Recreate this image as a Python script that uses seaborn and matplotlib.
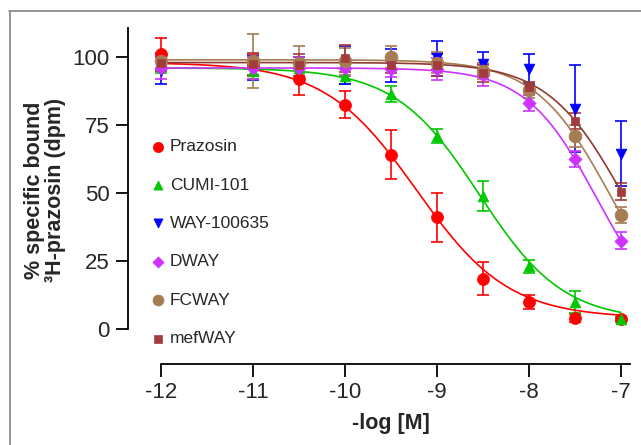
import matplotlib
matplotlib.use("Agg")
import matplotlib.pyplot as plt
from matplotlib.lines import Line2D
import seaborn as sns
import pandas as pd
import numpy as np

# concentrations (-log [M])
log_conc = [-12, -11, -10.5, -10, -9.5, -9, -8.5, -8, -7.5, -7]

compounds = ["Prazosin", "CUMI-101", "WAY-100635", "DWAY", "FCWAY", "mefWAY"]

# % specific bound (mean) and error
prazosin_mean = [101, 97, 92, 82.5, 64, 41, 18.5, 10, 4, 3.5]
prazosin_err = [6, 4, 6, 5, 9, 9, 6, 2.5, 1.5, 1]
cumi_mean = [97, 95, 96, 93, 86.5, 71, 49, 23, 10, 3.5]
cumi_err = [3, 3, 3, 3, 3, 2.5, 5.5, 2.5, 4, 1]
way_mean = [95, 96, 96, 97, 97, 99.5, 97.5, 95.5, 81, 64.5]
way_err = [5, 4.5, 4, 7, 6, 6.5, 4.5, 5.5, 16, 12]
dway_mean = [96, 96, 96, 96, 95.5, 95.5, 93.5, 83, 62.5, 32.5]
dway_err = [4, 4, 4, 3, 3, 4, 4, 3, 3, 3]
fcway_mean = [98.5, 98.5, 98, 98.5, 100, 98, 95, 88, 71, 42]
fcway_err = [3, 10, 6, 5, 4, 4, 3, 3, 4, 3]
mefway_mean = [98, 97.5, 97, 99.5, 97, 97, 94, 89, 76.5, 50.5]
mefway_err = [3, 4, 4, 5, 3, 4, 3, 2, 3, 3]

# 4-parameter logistic fits: top, bottom, logIC50, hill (None = no fit drawn)
fit_params = {
    "Prazosin": (98, 4, -9.22, 0.87),
    "CUMI-101": (96, 3, -8.54, 0.95),
    "WAY-100635": None,
    "DWAY": (96, 0, -7.26, 1.12),
    "FCWAY": (99, 0, -7.12, 1.07),
    "mefWAY": (98, 0, -6.97, 1.05),
}

means = [prazosin_mean, cumi_mean, way_mean, dway_mean, fcway_mean, mefway_mean]
errs = [prazosin_err, cumi_err, way_err, dway_err, fcway_err, mefway_err]

colors = ["#ff0000", "#00c800", "#0000ff", "#cc33ff", "#a67c52", "#a23c3c"]
line_colors = ["#ff0000", "#00c800", "#0000ff", "#cc33ff", "#a67c52", "#8e3a2e"]
markers = ["o", "^", "v", "D", "o", "s"]
msizes = [75, 60, 60, 45, 85, 40]

sns.set_style("ticks")
plt.rcParams["font.family"] = ["Liberation Sans", "DejaVu Sans"]

fig = plt.figure(figsize=(6.41, 4.45), dpi=100)
ax = fig.add_axes([128 / 641, 1 - 364 / 445, 1 - 128 / 641, (364 - 28) / 445])

xfit = np.linspace(log_conc[0], log_conc[-1], 300)

for i, name in enumerate(compounds):
    df = pd.DataFrame({"x": log_conc, "y": means[i], "err": errs[i]})
    ax.errorbar(df["x"], df["y"], yerr=df["err"], fmt="none", ecolor=colors[i],
                elinewidth=1.2, capsize=4.5, capthick=1.2, zorder=2)
    p = fit_params[name]
    if p is not None:
        top, bottom, ic50, hill = p
        yfit = bottom + (top - bottom) / (1 + 10 ** ((xfit - ic50) * hill))
        sns.lineplot(x=xfit, y=yfit, color=line_colors[i], linewidth=1.2, ax=ax, zorder=3)
    sns.scatterplot(data=df, x="x", y="y", color=colors[i], marker=markers[i],
                    s=msizes[i], edgecolor=colors[i], linewidth=0.5, ax=ax,
                    label=name, zorder=4)

ax.set_xlim(-12.36, -6.78)
ax.set_ylim(-12.9, 110.7)
ax.set_xticks([-12, -11, -10, -9, -8, -7])
ax.set_xticklabels(["-12", "-11", "-10", "-9", "-8", "-7"])
ax.set_yticks([0, 25, 50, 75, 100])
sns.despine(ax=ax)
ax.spines["left"].set_bounds(0, 110.7)
ax.spines["bottom"].set_bounds(-12, -6.9)
for s in ["left", "bottom"]:
    ax.spines[s].set_linewidth(1.3)
    ax.spines[s].set_color("black")
ax.tick_params(axis="both", which="major", labelsize=16, length=9, width=1.3,
               color="black", direction="out", pad=4)

ax.set_xlabel("-log [M]", fontsize=15.5, fontweight="bold")
ax.set_ylabel("% specific bound\n\u00b3H-prazosin (dpm)", fontsize=15.5,
              fontweight="bold", linespacing=1.0)
ax.xaxis.set_label_coords((391 - 128) / 513, (364 - 413) / 336)
ax.yaxis.set_label_coords((66 - 128) / 513, (364 - 190) / 336)

leg = ax.legend(loc="upper left", bbox_to_anchor=(151 / 641, 1 - 139 / 445),
                bbox_transform=fig.transFigure, frameon=False, fontsize=12.5,
                handlelength=0.8, handletextpad=0.3, labelspacing=1.34,
                borderpad=0, borderaxespad=0, markerscale=0.85)

# thin grey frame round the figure (top and left edges visible)
fig.add_artist(Line2D([9 / 641, 1], [1 - 10.5 / 445, 1 - 10.5 / 445],
                      transform=fig.transFigure, color="#8c8c8c", linewidth=1.3))
fig.add_artist(Line2D([9.5 / 641, 9.5 / 641], [0, 1 - 10.5 / 445],
                      transform=fig.transFigure, color="#8c8c8c", linewidth=1.3))

fig.savefig("out.png", dpi=100)
